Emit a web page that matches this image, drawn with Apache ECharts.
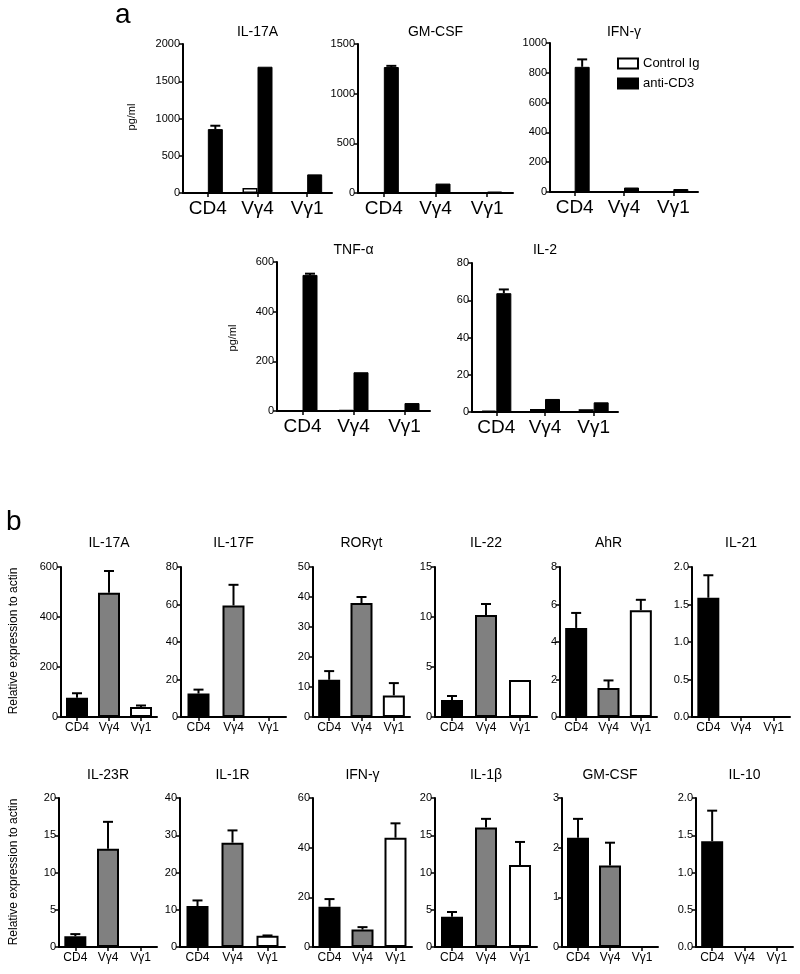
<!DOCTYPE html>
<html>
<head>
<meta charset="utf-8">
<script src="https://cdn.jsdelivr.net/npm/echarts@6/dist/echarts.min.js"></script>
<style>
  html, body { margin: 0; padding: 0; background: #fff; }
  #chart { width: 800px; height: 974px; }
</style>
</head>
<body>
<div id="chart"></div>
<script>
// 细胞群
const groups = ['CD4', 'Vγ4', 'Vγ1'];

// a: 分泌的细胞因子 (pg/ml)
const aNames = ['IL-17A', 'GM-CSF', 'IFN-γ', 'TNF-α', 'IL-2'];
const aControl = [[5, 68, 5], [3, 4, 2], [4, 3, 3], [3, 5, 3], [0.8, 1.6, 1.5]];
const aAnti = [[858, 1695, 250], [1268, 95, 15], [840, 30, 20], [548, 156, 32], [63.8, 7, 5.2]];
const aAntiErr = [[45, 0, 0], [12, 0, 0], [50, 0, 0], [5, 0, 0], [2, 0, 0]];
const aMax = [2000, 1500, 1000, 600, 80];
const aStep = [500, 500, 200, 200, 20];

// b: 相对表达量 (均值, 误差)
const bNames = ['IL-17A', 'IL-17F', 'RORγt', 'IL-22', 'AhR', 'IL-21',
                'IL-23R', 'IL-1R', 'IFN-γ', 'IL-1β', 'GM-CSF', 'IL-10'];
const bMean = [
  [77, 497, 40], [12.5, 59.5, 0], [12.4, 38, 7.2], [1.7, 10.2, 3.7], [4.75, 1.55, 5.7], [1.59, 0, 0],
  [1.43, 13.2, 0], [11, 28, 3.0], [16.2, 7, 44], [4.05, 16.05, 11], [2.2, 1.64, 0], [1.42, 0, 0]
];
const bErr = [
  [18, 87, 6], [2.1, 11, 0], [2.9, 2, 4.1], [0.4, 1.1, 0], [0.8, 0.4, 0.55], [0.3, 0, 0],
  [0.3, 3.6, 0], [1.5, 3.3, 0.1], [3.1, 1, 5.8], [0.65, 1.15, 3.1], [0.38, 0.46, 0], [0.41, 0, 0]
];
const bMax = [600, 80, 50, 15, 8, 2, 20, 40, 60, 20, 3, 2];
const bStep = [200, 20, 10, 5, 2, 0.5, 5, 10, 20, 5, 1, 0.5];

// 布局 [left, top, width, height]
const layoutA = [[183, 44, 149, 149], [358, 44, 155, 149], [550, 43, 148, 149],
                 [277, 262, 153, 149], [472, 263, 146, 149]];
const titleYA = [32, 32, 32, 250, 250];
const bCols = [[61, 157], [181, 286], [313, 410], [435, 537], [560, 657], [692, 790],
               [59, 157], [180, 285], [313, 412], [435, 537], [562, 658], [696, 793]];
const bColors = ['#000', '#808080', '#fff'];
const FONT = 'Liberation Sans, Arial, sans-serif';

const chart = echarts.init(document.getElementById('chart'));

const grids = [], xAxes = [], yAxes = [], series = [], graphics = [];

function addAxes(idx, max, step, labelSize, labelMargin) {
  xAxes.push({
    type: 'category', gridIndex: idx, data: groups,
    axisLine: { lineStyle: { color: '#000', width: 2 } },
    axisTick: { show: true, alignWithLabel: true, length: 4, lineStyle: { color: '#000', width: 1.5 } },
    axisLabel: { color: '#000', fontSize: labelSize, fontFamily: FONT, margin: labelMargin, interval: 0 }
  });
  yAxes.push({
    type: 'value', gridIndex: idx, min: 0, max: max, interval: step,
    splitLine: { show: false },
    axisLine: { show: true, lineStyle: { color: '#000', width: 2 } },
    axisTick: { show: true, length: 4, lineStyle: { color: '#000', width: 1.5 } },
    axisLabel: {
      color: '#000', fontSize: 11, fontFamily: FONT, margin: 3,
      formatter: v => step < 1 ? v.toFixed(1) : String(v)
    }
  });
}

function errSeries(idx, data, offset, cap) {
  return {
    type: 'custom', xAxisIndex: idx, yAxisIndex: idx, z: 5, silent: true,
    data: data,
    renderItem: (params, api) => {
      const base = api.coord([api.value(0), api.value(1)]);
      const top = api.coord([api.value(0), api.value(2)]);
      const x = base[0] + offset;
      return {
        type: 'group',
        children: [
          { type: 'line', shape: { x1: x, y1: base[1], x2: x, y2: top[1] }, style: { stroke: '#000', lineWidth: 2 } },
          { type: 'line', shape: { x1: x - cap / 2, y1: top[1], x2: x + cap / 2, y2: top[1] }, style: { stroke: '#000', lineWidth: 2 } }
        ]
      };
    }
  };
}

function addTitle(text, x, y) {
  graphics.push({
    type: 'text', x: x, y: y,
    style: { text: text, fill: '#000', font: '14px ' + FONT, align: 'center', verticalAlign: 'middle' }
  });
}

function addVText(text, x, y, size) {
  graphics.push({
    type: 'text', x: x, y: y, rotation: Math.PI / 2,
    style: { text: text, fill: '#000', font: size + 'px ' + FONT, align: 'center', verticalAlign: 'middle' }
  });
}

// a 部分
aNames.forEach((name, i) => {
  const [l, t, w, h] = layoutA[i];
  const idx = grids.length;
  grids.push({ left: l, top: t, width: w, height: h });
  addAxes(idx, aMax[i], aStep[i], 19, 6);
  series.push({
    name: 'Control Ig', type: 'bar', xAxisIndex: idx, yAxisIndex: idx,
    barWidth: 15, barGap: '0%', data: aControl[i],
    itemStyle: { color: '#fff', borderColor: '#000', borderWidth: 1.5 }
  });
  series.push({
    name: 'anti-CD3', type: 'bar', xAxisIndex: idx, yAxisIndex: idx,
    barWidth: 15, barGap: '0%', data: aAnti[i],
    itemStyle: { color: '#000', borderColor: '#000', borderWidth: 1 }
  });
  const err = [];
  aAnti[i].forEach((v, k) => { if (aAntiErr[i][k] > 0) err.push([k, v, v + aAntiErr[i][k]]); });
  series.push(errSeries(idx, err, 7.5, 10));
  addTitle(name, l + w / 2, titleYA[i]);
});

// b 部分
bNames.forEach((name, i) => {
  const [l, r] = bCols[i];
  const row = i < 6 ? 0 : 1;
  const t = row === 0 ? 567 : 798;
  const h = row === 0 ? 150 : 149;
  const idx = grids.length;
  grids.push({ left: l, top: t, width: r - l, height: h });
  addAxes(idx, bMax[i], bStep[i], 12, 5);
  series.push({
    type: 'bar', xAxisIndex: idx, yAxisIndex: idx, barWidth: 22,
    data: bMean[i].map((v, k) => ({ value: v, itemStyle: { color: bColors[k] } })),
    itemStyle: { borderColor: '#000', borderWidth: 2 }
  });
  const err = [];
  bMean[i].forEach((v, k) => { if (bErr[i][k] > 0) err.push([k, v, v + bErr[i][k]]); });
  series.push(errSeries(idx, err, 0, 10));
  addTitle(name, (l + r) / 2, row === 0 ? 543 : 775);
});

// 面板字母和轴标题
graphics.push({ type: 'text', x: 115, y: 15, style: { text: 'a', fill: '#000', font: '28px ' + FONT, verticalAlign: 'middle' } });
graphics.push({ type: 'text', x: 6, y: 522, style: { text: 'b', fill: '#000', font: '28px ' + FONT, verticalAlign: 'middle' } });
addVText('pg/ml', 132, 117, 11);
addVText('pg/ml', 233, 338, 11);
addVText('Relative expression to actin', 14, 641, 12);
addVText('Relative expression to actin', 14, 872, 12);

chart.setOption({
  animation: false,
  backgroundColor: '#fff',
  legend: {
    data: ['Control Ig', 'anti-CD3'],
    orient: 'vertical', left: 612, top: 52,
    icon: 'rect', itemWidth: 20, itemHeight: 10, itemGap: 7,
    textStyle: { color: '#000', fontSize: 13, fontFamily: FONT }
  },
  grid: grids,
  xAxis: xAxes,
  yAxis: yAxes,
  series: series,
  graphic: graphics
});
</script>
</body>
</html>
